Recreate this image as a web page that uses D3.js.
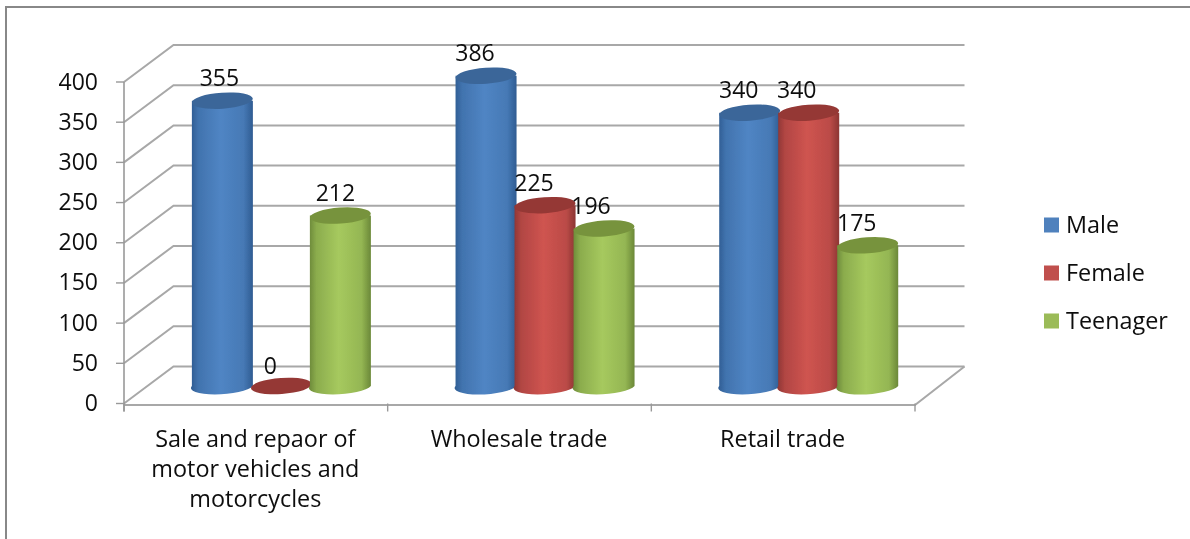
<!DOCTYPE html>
<html><head><meta charset="utf-8">
<script src="https://cdn.jsdelivr.net/npm/d3@7/dist/d3.min.js"></script>
<style>html,body{margin:0;padding:0;background:#fff}svg{display:block}text{font-family:"Open Sans",Lato,sans-serif;fill:#0d0d0d}</style>
</head><body><svg id="c" width="1190" height="539"></svg>
<script>
const categories = [["Sale and repaor of","motor vehicles and","motorcycles"],["Wholesale trade"],["Retail trade"]];
const seriesNames = ["Male","Female","Teenager"];
const male = [355,386,340];
const female = [0,225,340];
const teenager = [212,196,175];
const yTicks = [0,50,100,150,200,250,300,350,400];
const seriesColors = [
  {edge:"#2f5c92",mid:"#5085c4",top:"#3b6699",key:"#4f81bd"},
  {edge:"#8c3533",mid:"#cf5450",top:"#953735",key:"#c0504d"},
  {edge:"#6b8838",mid:"#a6c95e",top:"#77933c",key:"#9bbb59"}];
const series = [male,female,teenager];
// horizontal nudges of the value labels, per series and category
const labelNudge = [[-3,-11,-11],[-11,-11,-12],[-5,-13,-11]];

const W=1190,H=539;
const svg=d3.select("#c");
const defs=svg.append("defs");
defs.append("filter").attr("id","soft").append("feGaussianBlur").attr("stdDeviation",0.5);
defs.append("filter").attr("id","softText").append("feGaussianBlur").attr("stdDeviation",0.3);
seriesColors.forEach((c,i)=>{
  const g=defs.append("linearGradient").attr("id","g"+i);
  g.append("stop").attr("offset","0").attr("stop-color",c.edge);
  g.append("stop").attr("offset","0.12").attr("stop-color",d3.interpolateRgb(c.edge,c.mid)(0.55));
  g.append("stop").attr("offset","0.48").attr("stop-color",c.mid);
  g.append("stop").attr("offset","0.85").attr("stop-color",d3.interpolateRgb(c.edge,c.mid)(0.7));
  g.append("stop").attr("offset","1").attr("stop-color",c.edge);
});
// frame: top and left only inside the picture
svg.append("path").attr("d",`M6,${H} V7 H${W}`).attr("fill","none").attr("stroke","#888").attr("stroke-width",2);

const art=svg.append("g").attr("filter","url(#soft)");
const root=svg.append("g").attr("filter","url(#softText)");
const dx=49.5, dy=-37;
const y=d3.scaleLinear().domain([0,400]).range([403.5,82]);
const x=d3.scaleBand().domain(d3.range(categories.length)).range([124,915]);
const grid="#a8a8a8";
yTicks.forEach(t=>{
  const yy=y(t);
  art.append("path").attr("d",`M${124},${yy} L${124+dx},${yy+dy} H${915+dx}`).attr("fill","none").attr("stroke",grid).attr("stroke-width",2);
});
art.append("path").attr("d",`M124,${y(0)+1.5} H915 L${915+dx},${y(0)+dy}`).attr("fill","none").attr("stroke",grid).attr("stroke-width",2);
art.append("line").attr("x1",124).attr("x2",124).attr("y1",y(400)).attr("y2",y(0)+8).attr("stroke","#999").attr("stroke-width",1.6);
yTicks.forEach(t=>art.append("line").attr("x1",116).attr("x2",124).attr("y1",y(t)).attr("y2",y(t)).attr("stroke","#999").attr("stroke-width",1.4));
d3.range(4).forEach(i=>{
  const px=124+i*x.step();
  art.append("line").attr("x1",px).attr("x2",px).attr("y1",y(0)).attr("y2",y(0)+8).attr("stroke","#999").attr("stroke-width",1.4);
});
const barOff=d3.scalePoint().domain([0,1,2]).range([-59,59]);
const rx=30.5, ry=8;
const baseShift=dx/2+0.8, yShift=-17.5;
const tilt=-4;
categories.forEach((c,ci)=>{
  series.forEach((vals,si)=>{
    const v=vals[ci];
    const cx=x(ci)+x.bandwidth()/2+baseShift+barOff(si);
    const y0=y(0)+yShift, y1=y(v)+yShift;
    const g=art.append("g");
    if(v>0){
      g.append("path").attr("d",`M${cx-rx},${y1} V${y0} A${rx},${ry} ${tilt} 0 0 ${cx+rx},${y0} V${y1} Z`)
       .attr("fill",`url(#g${si})`);
    }
    g.append("ellipse").attr("cx",cx).attr("cy",y1).attr("rx",rx).attr("ry",ry)
      .attr("transform",`rotate(${tilt} ${cx} ${y1})`).attr("fill",seriesColors[si].top);
  });
});
const fs=23, fsText=23.4;
series.forEach((vals,si)=>vals.forEach((v,ci)=>{
  const cx=x(ci)+x.bandwidth()/2+baseShift+barOff(si);
  root.append("text").attr("x",cx+labelNudge[si][ci])
    .attr("y",y(v)+yShift-(v==0?12:14.5)).attr("text-anchor","middle").attr("font-size",fs).text(v);
}));
yTicks.forEach(t=>root.append("text").attr("x",98).attr("y",y(t)+7.5).attr("text-anchor","end").attr("font-size",fs).text(t));
categories.forEach((lines,ci)=>lines.forEach((l,k)=>{
  root.append("text").attr("x",x(ci)+x.bandwidth()/2-0.5).attr("y",447+k*30).attr("text-anchor","middle").attr("font-size",fsText).text(l);
}));
const ly=d3.scalePoint().domain(seriesNames).range([225,321]);
seriesNames.forEach((n,i)=>{
  root.append("rect").attr("x",1044).attr("y",ly(n)-7.5).attr("width",15).attr("height",15).attr("fill",seriesColors[i].key);
  root.append("text").attr("x",1066).attr("y",ly(n)+8).attr("font-size",fsText).text(n);
});
</script></body></html>
